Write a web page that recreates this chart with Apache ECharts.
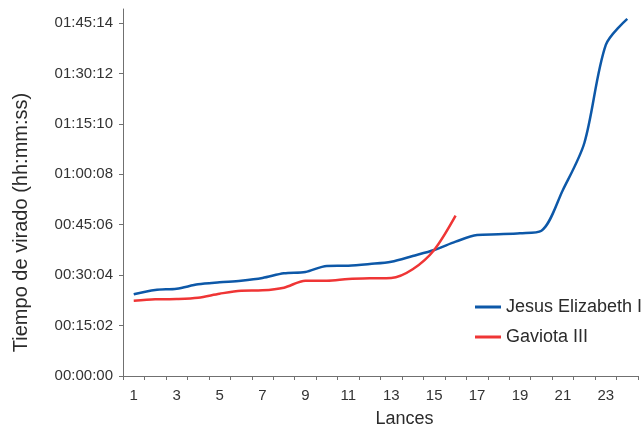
<!DOCTYPE html>
<html>
<head>
<meta charset="utf-8">
<script src="https://cdn.jsdelivr.net/npm/echarts@6/dist/echarts.min.js"></script>
<style>
html,body{margin:0;padding:0;background:#fff;}
#chart{width:644px;height:425px;}
</style>
</head>
<body>
<div id="chart"></div>
<script>
// Lances (x categories)
const categories = ['1','2','3','4','5','6','7','8','9','10','11','12','13','14','15','16','17','18','19','20','21','22','23','24'];
// Tiempo de virado in seconds
const jesusElizabeth = [1462,1539,1562,1640,1676,1705,1753,1837,1861,1968,1973,2004,2045,2147,2254,2403,2522,2535,2553,2599,3328,4168,5922,6387];
const gaviota = [1347,1372,1378,1401,1472,1526,1533,1580,1705,1705,1735,1748,1753,1909,2254,2868];
const seriesNames = ['Jesus Elizabeth I', 'Gaviota III'];
const yTickStep = 902; // 00:15:02
const yMax = 6565;

function fmt(v){
  const h = Math.floor(v/3600), m = Math.floor((v%3600)/60), s = Math.round(v%60);
  const p = n => String(n).padStart(2,'0');
  return p(h)+':'+p(m)+':'+p(s);
}

const chart = echarts.init(document.getElementById('chart'));
const font = 'Liberation Sans, Arial, sans-serif';
const axisColor = '#707070';
chart.setOption({
  animation:false,
  textStyle:{fontFamily:font},
  grid:{left:123, right:6, top:9, bottom:49, outerBoundsMode:'none', containLabel:false},
  legend:{
    data:seriesNames, orient:'vertical', left:470, top:292,
    icon:'rect', itemWidth:26, itemHeight:3, itemGap:10,
    textStyle:{fontSize:18, color:'#2b2b2b', fontFamily:font, lineHeight:20}
  },
  xAxis:{
    type:'category', data:categories, boundaryGap:true,
    name:'Lances', nameLocation:'middle', nameGap:34,
    nameTextStyle:{fontSize:18, color:'#2b2b2b', fontFamily:font, padding:[0,0,0,48]},
    axisLine:{lineStyle:{color:axisColor, width:1}},
    axisTick:{show:true, interval:0, length:4, lineStyle:{color:axisColor}},
    axisLabel:{interval:1, fontSize:15, color:'#333', margin:12, fontFamily:font},
    splitLine:{show:false}
  },
  yAxis:{
    type:'value', min:0, max:yMax, interval:yTickStep,
    name:'Tiempo de virado (hh:mm:ss)', nameLocation:'middle', nameGap:92, nameRotate:90,
    nameTextStyle:{fontSize:20, color:'#2b2b2b', fontFamily:font, padding:[0,60,0,0]},
    axisLine:{show:true, lineStyle:{color:axisColor, width:1}},
    axisTick:{show:true, length:4, lineStyle:{color:axisColor}},
    axisLabel:{fontSize:15, color:'#333', margin:10, fontFamily:font, showMaxLabel:false,
      formatter: v => (v % yTickStep === 0 ? fmt(v) : '')},
    splitLine:{show:false}
  },
  series:[
    {name:seriesNames[0], type:'line', data:jesusElizabeth, smooth:0.3, showSymbol:false, symbol:'none',
     lineStyle:{color:'#0d58a8', width:2.5}, itemStyle:{color:'#0d58a8'}, clip:false},
    {name:seriesNames[1], type:'line', data:gaviota, smooth:0.3, showSymbol:false, symbol:'none',
     lineStyle:{color:'#ef3535', width:2.5}, itemStyle:{color:'#ef3535'}, clip:false}
  ]
});
</script>
</body>
</html>
